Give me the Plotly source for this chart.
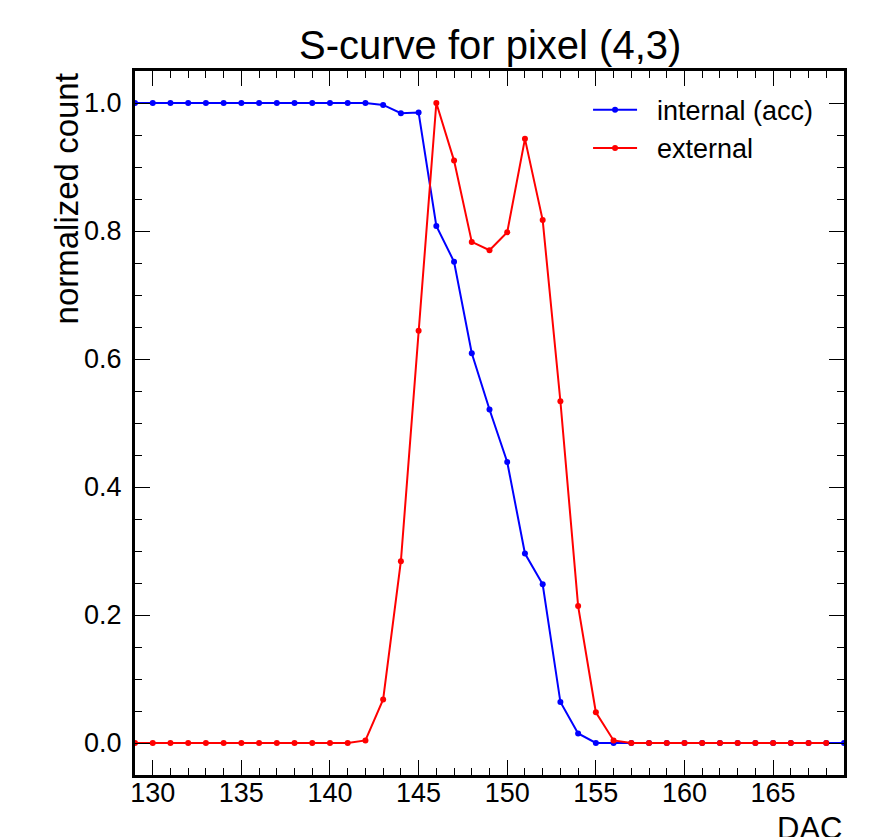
import plotly.graph_objects as go

# data
dac_internal = list(range(129, 170))
internal = [1.0] * 14 + [0.997, 0.984, 0.985, 0.808, 0.752, 0.609, 0.521, 0.439,
                         0.296, 0.248, 0.064, 0.015] + [0.0] * 15
dac_external = list(range(129, 169))
external = [0.0] * 13 + [0.004, 0.068, 0.284, 0.644, 1.0, 0.910, 0.783, 0.770, 0.798,
                         0.944, 0.817, 0.534, 0.214, 0.048, 0.004] + [0.0] * 12

x_ticks = [130, 135, 140, 145, 150, 155, 160, 165]
y_ticks = [0.0, 0.2, 0.4, 0.6, 0.8, 1.0]
y_tick_text = ["0.0", "0.2", "0.4", "0.6", "0.8", "1.0"]

FONT = "Liberation Sans"
PAD = "\u00a0\u00a0"

fig = go.Figure()
fig.add_trace(go.Scatter(x=dac_internal, y=internal, mode="lines+markers",
                         name=PAD + "internal (acc)",
                         line=dict(color="#0000ff", width=2),
                         marker=dict(color="#0000ff", size=6)))
fig.add_trace(go.Scatter(x=dac_external, y=external, mode="lines+markers",
                         name=PAD + "external",
                         line=dict(color="#ff0000", width=2),
                         marker=dict(color="#ff0000", size=6)))

axis_common = dict(showline=True, linecolor="black", linewidth=3, mirror="allticks",
                   ticks="inside", tickcolor="black", tickwidth=1.3, ticklen=15,
                   showgrid=False, zeroline=False, automargin=False,
                   tickfont=dict(family=FONT, size=27, color="black"))

fig.update_xaxes(range=[129, 169], tickvals=x_ticks,
                 minor=dict(dtick=1, tick0=0, ticks="inside", ticklen=7,
                            tickcolor="black", tickwidth=1.3, showgrid=False),
                 ticklabelstandoff=-8,
                 **axis_common)
fig.update_yaxes(range=[-0.05, 1.05], tickvals=y_ticks, ticktext=y_tick_text,
                 minor=dict(dtick=0.05, tick0=0, ticks="inside", ticklen=7,
                            tickcolor="black", tickwidth=1.3, showgrid=False),
                 ticklabelstandoff=5,
                 **axis_common)

fig.update_layout(
    width=877, height=829,
    margin=dict(l=127, r=41, t=63, b=62, autoexpand=False),
    plot_bgcolor="white", paper_bgcolor="white",
    font=dict(family=FONT, color="black"),
    showlegend=True,
    legend=dict(x=0.639, y=0.979, xanchor="left", yanchor="top",
                bgcolor="rgba(0,0,0,0)", borderwidth=0,
                font=dict(family=FONT, size=27, color="black"),
                itemwidth=44, tracegroupgap=0),
    annotations=[
        dict(text="S-curve for pixel (4,3)", xref="paper", yref="paper",
             x=0.5, y=1.0, xanchor="center", yanchor="bottom", yshift=2,
             showarrow=False, font=dict(family=FONT, size=40, color="black")),
        dict(text="normalized count", xref="paper", yref="paper",
             x=-0.096, y=1.0, xanchor="center", yanchor="top", textangle=-90,
             showarrow=False, font=dict(family=FONT, size=33, color="black")),
        dict(text="DAC", xref="paper", yref="paper",
             x=1.0, y=0.0, xanchor="right", yanchor="top", yshift=-34,
             showarrow=False, font=dict(family=FONT, size=31, color="black")),
    ],
)

fig.write_html("out.html")
